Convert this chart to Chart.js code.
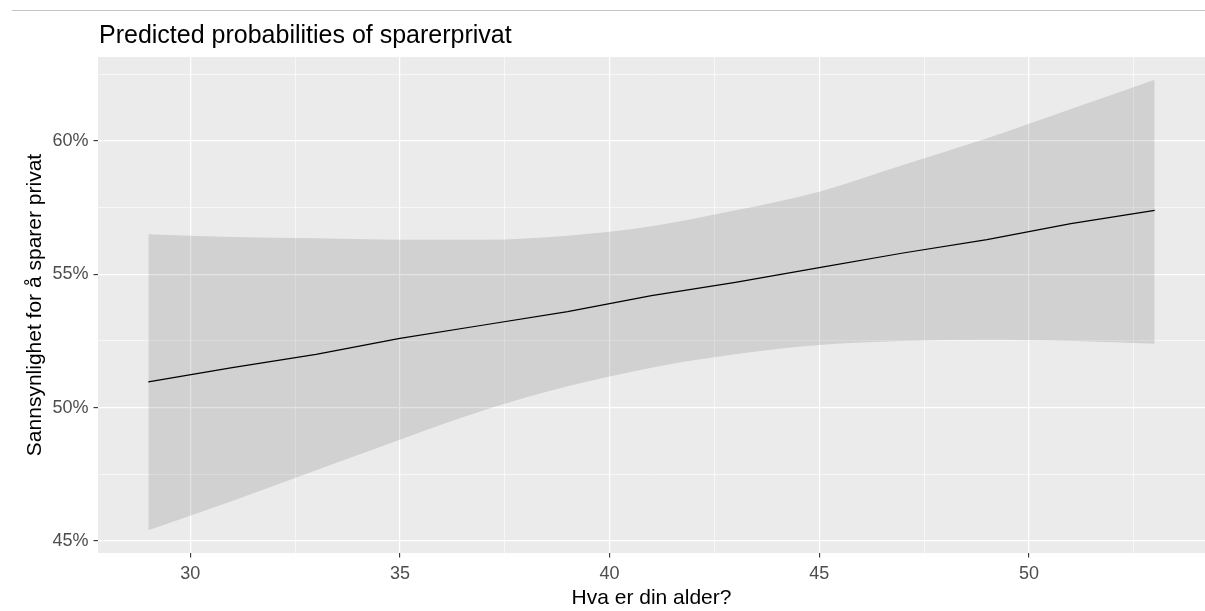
<!DOCTYPE html>
<html>
<head>
<meta charset="utf-8">
<script src="https://cdn.jsdelivr.net/npm/chart.js@4"></script>
<style>
  body { margin: 0; background: #fff; }
  #wrap { position: relative; width: 1205px; height: 611px; }
  #rule { position: absolute; left: 12px; right: 0; top: 10px; border-top: 1px solid #c4c4c4; }
</style>
</head>
<body>
<div id="wrap">
  <div id="rule"></div>
  <canvas id="probChart" width="1205" height="611"></canvas>
</div>
<script>
// predicted probability (%) with 95% band, by age
const ages      = [29,    31,    33,    35,    37,    39,    41,    43,    45,    47,    49,    51,    53];
const predicted = [50.97, 51.5,  52.0,  52.6,  53.1,  53.6,  54.2,  54.7,  55.25, 55.8,  56.3,  56.9,  57.4];
const upperCI   = [56.5,  56.4,  56.35, 56.3,  56.3,  56.45, 56.8,  57.4,  58.1,  59.1,  60.1,  61.2,  62.3];
const lowerCI   = [45.4,  46.5,  47.65, 48.8,  49.9,  50.8,  51.5,  52.0,  52.35, 52.5,  52.55, 52.5,  52.4];

const xTicks = [30, 32.5, 35, 37.5, 40, 42.5, 45, 47.5, 50, 52.5];
const yTicks = [45, 47.5, 50, 52.5, 55, 57.5, 60, 62.5];

const FONT = "'Liberation Sans', Arial, sans-serif";
const isMajor = v => v % 5 === 0;
const pts = vals => ages.map((a, i) => ({ x: a, y: vals[i] }));

// grey panel behind the grid, ggplot style
const panelBg = {
  id: 'panelBg',
  beforeDraw(chart) {
    const { ctx, chartArea: a } = chart;
    ctx.save();
    ctx.fillStyle = '#ebebeb';
    ctx.fillRect(a.left, a.top, a.right - a.left, a.bottom - a.top);
    ctx.restore();
  }
};

// plot title, left aligned with the panel
const plotTitle = {
  id: 'plotTitle',
  afterDraw(chart) {
    const { ctx, chartArea: a } = chart;
    ctx.save();
    ctx.fillStyle = '#000';
    ctx.font = '25px ' + FONT;
    ctx.textBaseline = 'alphabetic';
    ctx.fillText('Predicted probabilities of sparerprivat', a.left + 1, 43);
    ctx.restore();
  }
};

const gridOpts = {
  color: '#ffffff',
  lineWidth: c => (c.tick && isMajor(c.tick.value)) ? 1.2 : 0.6,
  drawTicks: true,
  tickLength: 4.5,
  tickWidth: 1.1,
  tickColor: c => (c.tick && isMajor(c.tick.value)) ? '#333333' : 'rgba(0,0,0,0)'
};

new Chart(document.getElementById('probChart'), {
  type: 'line',
  data: {
    datasets: [
      {
        label: 'upper',
        data: pts(upperCI),
        borderWidth: 0,
        pointRadius: 0,
        backgroundColor: 'rgba(0,0,0,0.11)',
        fill: '+1',
        cubicInterpolationMode: 'monotone'
      },
      {
        label: 'lower',
        data: pts(lowerCI),
        borderWidth: 0,
        pointRadius: 0,
        fill: false,
        cubicInterpolationMode: 'monotone'
      },
      {
        label: 'predicted',
        data: pts(predicted),
        borderColor: '#000000',
        borderWidth: 1.2,
        pointRadius: 0,
        fill: false,
        tension: 0
      }
    ]
  },
  options: {
    responsive: false,
    animation: false,
    layout: { padding: { top: 57, right: 0, bottom: 0, left: 0 } },
    plugins: {
      legend: { display: false },
      tooltip: { enabled: false }
    },
    scales: {
      x: {
        type: 'linear',
        min: 27.8,
        max: 54.2,
        afterBuildTicks: s => { s.ticks = xTicks.map(v => ({ value: v })); },
        afterFit: s => { s.height = 58; },
        grid: gridOpts,
        border: { display: false },
        ticks: {
          autoSkip: false,
          maxRotation: 0,
          padding: 6,
          color: '#4d4d4d',
          font: { family: FONT, size: 18 },
          callback: v => isMajor(v) ? String(v) : ''
        },
        title: {
          display: true,
          text: 'Hva er din alder?',
          color: '#000',
          font: { family: FONT, size: 21 },
          padding: { top: 0, bottom: 0.5 }
        }
      },
      y: {
        type: 'linear',
        min: 44.55,
        max: 63.15,
        afterBuildTicks: s => { s.ticks = yTicks.map(v => ({ value: v })); },
        afterFit: s => { s.width = 98; },
        grid: gridOpts,
        border: { display: false },
        ticks: {
          autoSkip: false,
          padding: 5,
          color: '#4d4d4d',
          font: { family: FONT, size: 18 },
          callback: v => isMajor(v) ? v + '%' : ''
        },
        title: {
          display: true,
          text: 'Sannsynlighet for å sparer privat',
          color: '#000',
          font: { family: FONT, size: 21 },
          padding: { top: 23, bottom: 0 }
        }
      }
    }
  },
  plugins: [panelBg, plotTitle]
});
</script>
</body>
</html>
